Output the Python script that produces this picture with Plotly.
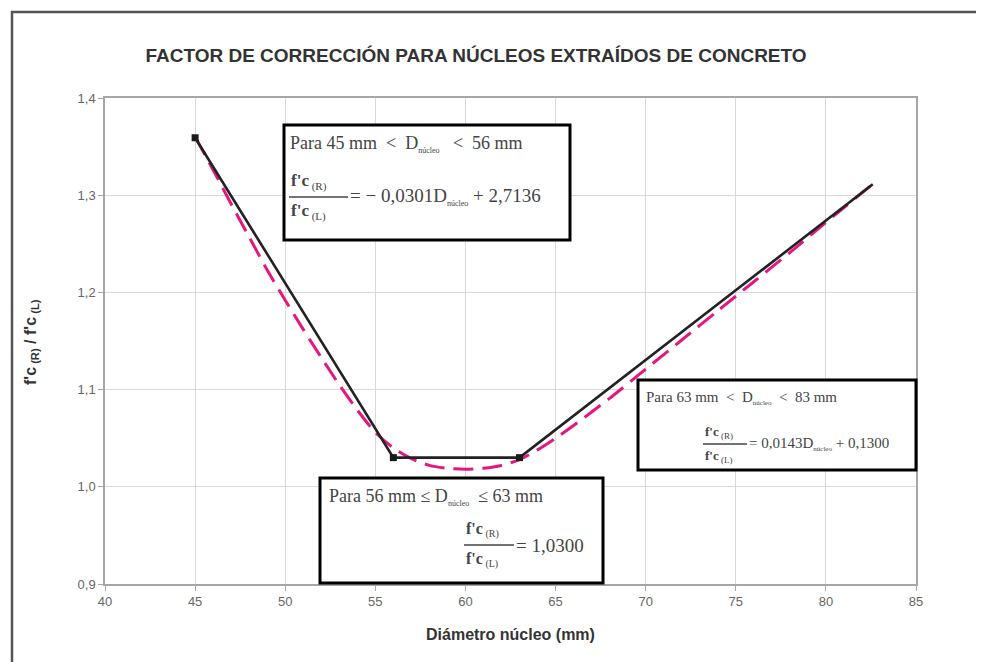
import plotly.graph_objects as go

# --- data ---
fit_x = [45, 56, 63, 82.6]
fit_y = [1.3591, 1.0300, 1.0300, 1.3112]
marker_x = [45, 56, 63]
marker_y = [1.3591, 1.0300, 1.0300]

curve_x = [45, 46, 47, 48, 49, 50, 51, 52, 53, 54, 55, 56, 57, 58, 59, 60,
           61, 62, 63, 64, 65, 66, 67, 68, 70, 72, 74, 76, 78, 80, 82.5]
curve_y = [1.360, 1.326, 1.291, 1.257, 1.223, 1.192, 1.162, 1.133, 1.105, 1.079,
           1.056, 1.040, 1.029, 1.022, 1.019, 1.018, 1.019, 1.022, 1.028, 1.038,
           1.050, 1.063, 1.077, 1.091, 1.121, 1.151, 1.181, 1.211, 1.241, 1.272, 1.310]

x_ticks = [40, 45, 50, 55, 60, 65, 70, 75, 80, 85]
y_ticks = [0.9, 1.0, 1.1, 1.2, 1.3, 1.4]

W, H = 984, 662
L, R, T, B = 97, 76, 90, 86
OFF = 8  # page body margin


def px(p):
    return (p - OFF - L) / (W - L - R)


def py(p):
    return (H - B - (p - OFF)) / (H - T - B)


fig = go.Figure()

fig.add_trace(go.Scatter(
    x=curve_x, y=curve_y, mode="lines", line_shape="spline",
    line=dict(color="#e5177f", width=3, dash="20px,9px", smoothing=0.8),
    hoverinfo="skip", showlegend=False,
))
fig.add_trace(go.Scatter(
    x=fit_x, y=fit_y, mode="lines",
    line=dict(color="#222222", width=2.6),
    showlegend=False,
))
fig.add_trace(go.Scatter(
    x=marker_x, y=marker_y, mode="markers",
    marker=dict(symbol="square", size=7, color="#1a1a1a"),
    showlegend=False,
))

serif = "Liberation Serif, Times New Roman, serif"
txt_col = "#444444"
shapes = []
annots = []

# outer frame of the picture
shapes.append(dict(type="rect", xref="paper", yref="paper",
                   x0=px(12), x1=px(1010), y0=py(690), y1=py(12),
                   line=dict(color="#555555", width=2.5), fillcolor="rgba(0,0,0,0)",
                   layer="below"))


def box(x0, y0, x1, y1):
    shapes.append(dict(type="rect", xref="paper", yref="paper",
                       x0=px(x0), x1=px(x1), y0=py(y1), y1=py(y0),
                       line=dict(color="black", width=3), fillcolor="white",
                       layer="above"))


def text(x, y, s, size, anchor="left"):
    annots.append(dict(xref="paper", yref="paper", x=px(x), y=py(y), text=s,
                       showarrow=False, xanchor=anchor, yanchor="middle",
                       font=dict(family=serif, size=size, color=txt_col)))


def sub(s, size):
    return f"<sub><span style='font-size:{size}px;color:{txt_col}'>{s}</span></sub>"


def fraction(x0, x1, y_bar, gap, size, subsize):
    shapes.append(dict(type="line", xref="paper", yref="paper",
                       x0=px(x0), x1=px(x1), y0=py(y_bar), y1=py(y_bar),
                       line=dict(color=txt_col, width=1.3), layer="above"))
    text(x0, y_bar - gap, "<b>f'c</b>" + sub("&nbsp;(R)", subsize), size)
    text(x0, y_bar + gap, "<b>f'c</b>" + sub("&nbsp;(L)", subsize), size)


# box 1 : 45 - 56 mm
box(284, 125, 570, 240)
text(288, 144, "Para 45 mm &nbsp;&lt;&nbsp; D" + sub("núcleo", 8) + " &nbsp;&nbsp;&lt;&nbsp; 56 mm", 18)
fraction(289, 348, 197, 15, 17, 11)
text(348, 196, "=&nbsp;−&nbsp;0,0301D" + sub("núcleo", 8) + " + 2,7136", 19)

# box 2 : 56 - 63 mm
box(320, 478, 603, 583)
text(327, 497, "Para 56 mm ≤ D" + sub("núcleo", 8) + " &nbsp;≤ 63 mm", 18)
fraction(464, 514, 545, 15, 16, 10)
text(514, 545, "=&nbsp;1,0300", 19)

# box 3 : 63 - 83 mm
box(638, 380, 916, 470)
text(644, 398, "Para 63 mm &nbsp;&lt;&nbsp; D" + sub("núcleo", 7) + " &nbsp;&lt; &nbsp;83 mm", 15)
fraction(703, 747, 444, 12, 13, 9)
text(747, 444, "=&nbsp;0,0143D" + sub("núcleo", 7) + " + 0,1300", 15)

# axis titles
annots.append(dict(xref="paper", yref="paper", x=px(510), y=py(634),
                   text="<b>Diámetro núcleo (mm)</b>", showarrow=False,
                   xanchor="center", yanchor="middle",
                   font=dict(family="Liberation Sans, Arial", size=16, color="#333333")))
annots.append(dict(xref="paper", yref="paper", x=px(31), y=py(342),
                   text="<b>f'c<sub> (R)</sub> / f'c<sub> (L)</sub></b>", showarrow=False,
                   textangle=-90, xanchor="center", yanchor="middle",
                   font=dict(family="Liberation Sans, Arial", size=16, color="#333333")))

fig.update_layout(
    width=W, height=H,
    margin=dict(l=L, r=R, t=T, b=B),
    paper_bgcolor="white", plot_bgcolor="white",
    separators=",.",
    title=dict(text="<b>FACTOR DE CORRECCIÓN PARA NÚCLEOS EXTRAÍDOS DE CONCRETO</b>",
               x=(476 - OFF) / W, y=1 - (55 - OFF) / H, xref="container", yref="container",
               xanchor="center", yanchor="middle",
               font=dict(family="Liberation Sans, Arial", size=19, color="#333333")),
    xaxis=dict(range=[40, 85], tickvals=x_ticks, showgrid=True, gridcolor="#d9d9d9",
               showline=True, linecolor="#a6a6a6", linewidth=1.5, mirror=True,
               ticks="outside", ticklen=5, tickcolor="#a6a6a6", zeroline=False,
               tickfont=dict(family="Liberation Sans, Arial", size=13, color="#666666")),
    yaxis=dict(range=[0.9, 1.4], tickvals=y_ticks, tickformat=".1f", showgrid=True,
               gridcolor="#d9d9d9", showline=True, linecolor="#a6a6a6", linewidth=1.5,
               mirror=True, ticks="outside", ticklen=5, tickcolor="#a6a6a6", zeroline=False,
               tickfont=dict(family="Liberation Sans, Arial", size=13, color="#666666")),
    shapes=shapes,
    annotations=annots,
)

fig.write_html("out.html")
